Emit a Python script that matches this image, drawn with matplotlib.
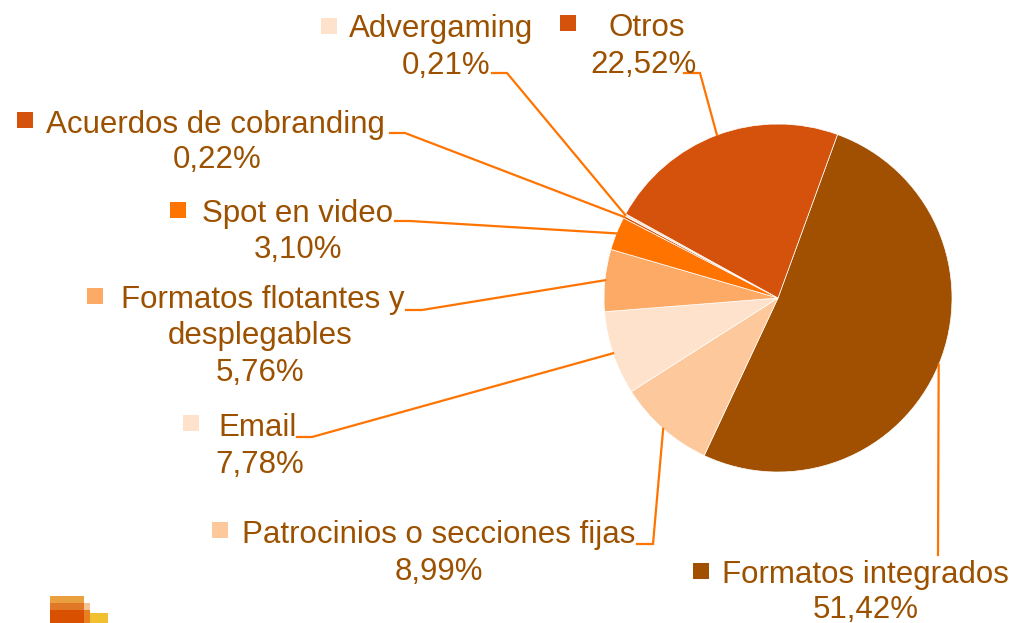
import numpy as np
import matplotlib.pyplot as plt
from matplotlib.patches import Rectangle

W, H = 1017, 623

# ── Data ─────────────────────────────────────────────────────────────────────
categorias = ['Formatos integrados', 'Patrocinios o secciones fijas', 'Email',
              'Formatos flotantes y\ndesplegables', 'Spot en video',
              'Acuerdos de cobranding', 'Advergaming', 'Otros']
porcentajes = [51.42, 8.99, 7.78, 5.76, 3.10, 0.22, 0.21, 22.52]
colores = ['#A05000', '#FDC89C', '#FEE2CC', '#FDAA66', '#FF7300',
           '#D4520C', '#FEE2CC', '#D4520C']

TXT = '#9C5100'
LEADER = '#FF7400'
FONT = 'Liberation Sans'
FS = 22.5

# ── Label layout (pixels, y measured from top) ───────────────────────────────
# key square left x / top y, name left x, name baseline, pct centre x, pct baseline
key_xy   = [(693, 563), (212, 522), (183, 415), (87, 288), (170, 202),
            (17, 112), (321, 18), (560, 15)]
name_xy  = [(722, 583), (242, 543), (218, 436), (121, 308), (202, 222),
            (46, 133), (349, 37), (608, 36)]
pct_xy   = [(866, 618), (439, 580), (260, 473), (260, 381), (298, 258),
            (217, 168), (446, 74), (643, 73)]
# leader lines: start next to label, elbow; end is taken from the wedge
lead_start = [(938, 555), (637, 544), (297, 437), (406, 310), (395, 221),
              (390, 133), (492, 73), (684, 73)]
lead_elbow = [(938, 555), (653, 544), (312, 437), (422, 310), (410, 221),
              (405, 133), (507, 73), (700, 73)]

CX, CY, R = 778, 298, 174


def fy(y):
    return H - y


fig = plt.figure(figsize=(W / 100, H / 100), dpi=100)
fig.patch.set_facecolor('white')
ax = fig.add_axes([0, 0, 1, 1])

wedges, _ = ax.pie(porcentajes, colors=colores, startangle=70, counterclock=False,
                   center=(CX, fy(CY)), radius=R,
                   wedgeprops=dict(edgecolor='white', linewidth=0.5))

for i, w in enumerate(wedges):
    mid = np.deg2rad((w.theta1 + w.theta2) / 2)
    ex, ey = CX + R * np.cos(mid), fy(CY) + R * np.sin(mid)
    (sx, sy), (bx, by) = lead_start[i], lead_elbow[i]
    ax.plot([sx, bx, ex], [fy(sy), fy(by), ey], color=LEADER, lw=1.6,
            solid_joinstyle='miter', zorder=3)

    kx, ky = key_xy[i]
    ax.add_patch(Rectangle((kx, fy(ky + 16)), 16, 16, facecolor=colores[i],
                           edgecolor='none'))

    lines = categorias[i].split('\n')
    nx, ny = name_xy[i]
    px, py = pct_xy[i]
    ax.text(nx, fy(ny), lines[0], ha='left', va='baseline', fontsize=FS,
            color=TXT, family=FONT)
    for k, extra in enumerate(lines[1:], start=1):
        ax.text(px, fy(ny + 36 * k), extra, ha='center', va='baseline',
                fontsize=FS, color=TXT, family=FONT)
    ax.text(px, fy(py), f'{porcentajes[i]:.2f}%'.replace('.', ','),
            ha='center', va='baseline', fontsize=FS, color=TXT, family=FONT)

# ── small logo blocks, bottom left ───────────────────────────────────────────
logo = [((50, 596, 34, 7), '#EBA040'), ((50, 603, 34, 7), '#E07828'),
        ((50, 610, 34, 13), '#D85000'), ((84, 603, 6, 7), '#F2C496'),
        ((84, 610, 6, 13), '#E88020'), ((90, 613, 18, 10), '#F0C030')]
for (x, y, w, h), c in logo:
    ax.add_patch(Rectangle((x, fy(y + h)), w, h, facecolor=c, edgecolor='none'))

ax.set_xlim(0, W)
ax.set_ylim(0, H)
ax.set_aspect('equal')
ax.axis('off')

fig.savefig('out.png', dpi=100)
